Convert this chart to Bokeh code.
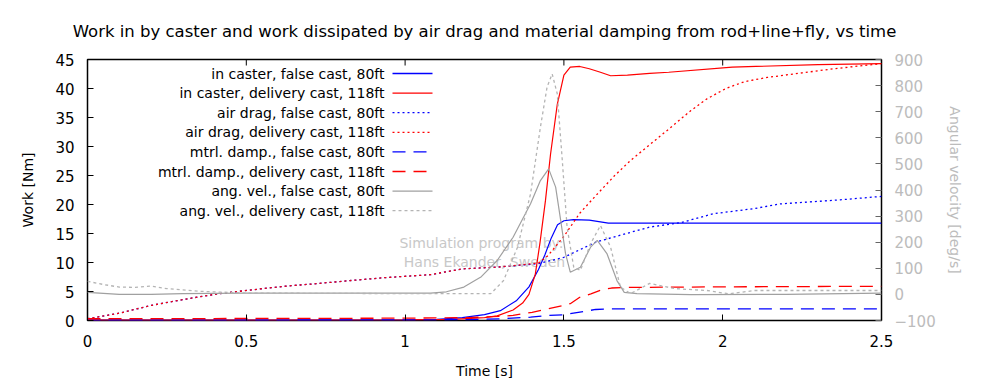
import numpy as np
from bokeh.plotting import figure
from bokeh.models import Range1d, LinearAxis, SingleIntervalTicker
from bokeh.embed import file_html
from bokeh.resources import INLINE
from bokeh.core.properties import value

# ---------------- data ----------------
title_text = "Work in by caster and work dissipated by air drag and material damping from rod+line+fly, vs time"

# Work [Nm], left axis
t_caster_false = [0, 0.5, 1.0, 1.1, 1.18, 1.25, 1.3, 1.35, 1.39, 1.42, 1.44, 1.46, 1.48, 1.5, 1.53, 1.58, 1.64, 1.7, 2.0, 2.5]
w_caster_false = [0.05, 0.05, 0.1, 0.2, 0.5, 1.0, 1.7, 3.4, 5.8, 8.8, 11.3, 14.2, 16.5, 17.2, 17.4, 17.3, 16.8, 16.8, 16.8, 16.8]

t_caster_deliv = [0, 0.5, 1.0, 1.15, 1.25, 1.29, 1.34, 1.37, 1.39, 1.41, 1.425, 1.442, 1.458, 1.479, 1.5, 1.52, 1.55, 1.58, 1.615, 1.647, 1.7, 1.77, 1.83, 2.03, 2.3, 2.5]
w_caster_deliv = [0.05, 0.05, 0.1, 0.2, 0.5, 0.8, 1.8, 3.0, 4.5, 8.0, 13.5, 20.7, 28.7, 37.2, 42.3, 43.7, 43.8, 43.4, 42.8, 42.2, 42.3, 42.6, 42.8, 43.7, 44.1, 44.3]

t_drag_false = [0, 0.1, 0.2, 0.31, 0.41, 0.52, 0.62, 0.73, 0.83, 0.94, 1.08, 1.18, 1.29, 1.42, 1.5, 1.6, 1.71, 1.77, 1.87, 1.97, 2.1, 2.18, 2.37, 2.5]
w_drag_false = [0.3, 1.26, 2.6, 3.7, 4.6, 5.3, 5.9, 6.4, 6.9, 7.4, 7.9, 8.9, 9.2, 9.8, 10.9, 13.5, 15.2, 16.1, 16.9, 18.4, 19.3, 20.1, 20.8, 21.4]

t_drag_deliv = [0, 0.1, 0.2, 0.31, 0.41, 0.52, 0.62, 0.73, 0.83, 0.94, 1.08, 1.18, 1.29, 1.42, 1.45, 1.5, 1.55, 1.6, 1.66, 1.71, 1.77, 1.83, 1.9, 1.95, 2.01, 2.07, 2.14, 2.25, 2.35, 2.5]
w_drag_deliv = [0.3, 1.26, 2.6, 3.7, 4.6, 5.3, 5.9, 6.4, 6.9, 7.4, 7.9, 8.9, 9.2, 9.9, 11.2, 14.5, 18.5, 21.5, 25.0, 27.6, 30.3, 33.0, 36.2, 38.2, 40.0, 41.2, 41.9, 42.7, 43.4, 44.3]

t_damp_false = [0, 1.0, 1.2, 1.3, 1.395, 1.45, 1.5, 1.53, 1.6, 1.65, 1.7, 2.5]
w_damp_false = [0.05, 0.1, 0.15, 0.3, 0.57, 0.86, 0.98, 1.26, 1.9, 2.0, 2.0, 2.0]

t_damp_deliv = [0, 0.5, 1.0, 1.2, 1.3, 1.34, 1.4, 1.45, 1.5, 1.52, 1.55, 1.585, 1.62, 1.65, 1.7, 2.0, 2.5]
w_damp_deliv = [0.3, 0.35, 0.4, 0.5, 0.7, 0.9, 1.4, 2.0, 2.6, 2.9, 4.0, 4.6, 5.3, 5.6, 5.7, 5.8, 5.9]

# Angular velocity [deg/s], right axis
t_angv_false = [0, 0.1, 0.2, 0.3, 0.5, 1.0, 1.08, 1.13, 1.185, 1.24, 1.29, 1.34, 1.395, 1.426, 1.452, 1.474, 1.49, 1.505, 1.52, 1.552, 1.584, 1.605, 1.636, 1.667, 1.69, 1.73, 1.9, 2.2, 2.5]
v_angv_false = [8, 0, 0, 3, 5, 5, 5, 10, 28, 68, 130, 219, 347, 436, 481, 411, 283, 157, 85, 104, 181, 207, 155, 53, 8, 3, -1, 0, 5]

t_angv_deliv = [0, 0.05, 0.1, 0.15, 0.2, 0.25, 0.35, 0.5, 1.0, 1.27, 1.31, 1.354, 1.395, 1.426, 1.447, 1.463, 1.479, 1.495, 1.51, 1.531, 1.552, 1.584, 1.615, 1.647, 1.678, 1.71, 1.77, 1.85, 1.95, 2.02, 2.1, 2.5]
v_angv_deliv = [50, 38, 28, 27, 32, 22, 12, 5, 3, 3, 53, 181, 385, 640, 794, 845, 769, 513, 257, 104, 92, 194, 264, 181, 28, 3, 42, 22, 15, 2, 15, 15]

legend_labels = ["in caster, false cast, 80ft", "in caster, delivery cast, 118ft",
                 "air drag, false cast, 80ft", "air drag, delivery cast, 118ft",
                 "mtrl. damp., false cast, 80ft", "mtrl. damp., delivery cast, 118ft",
                 "ang. vel., false cast, 80ft", "ang. vel., delivery cast, 118ft"]

x_ticks_interval = 0.5
y_ticks_interval = 5
y2_ticks_interval = 100

# ---------------- layout ----------------
X0, X1 = 0.0, 2.5
Y0, Y1 = 0.0, 45.0
V0, V1 = -100.0, 900.0
FL, FR, FT, FB = 87, 881, 59, 320   # frame edges in picture px
W, H = 1000, 383

def tx(px):
    return X0 + (px - FL) / (FR - FL) * (X1 - X0)

def wy(py):
    return Y0 + (FB - py) / (FB - FT) * (Y1 - Y0)

FONT = "DejaVu Sans"
BLUE = "#0000ff"
RED = "#ff0000"
GRAY1 = "#a0a0a0"
GRAY2 = "#b4b4b4"
DOT = "2 3"
DASH = "13 8"

p = figure(width=W, height=H, output_backend="svg", toolbar_location=None,
           x_range=Range1d(X0, X1), y_range=Range1d(Y0, Y1),
           min_border_left=FL, min_border_right=W - FR,
           min_border_top=FT, min_border_bottom=H - FB,
           title=title_text)
p.extra_y_ranges = {"w": Range1d(V0, V1)}
p.xgrid.visible = False
p.ygrid.visible = False
p.outline_line_color = "black"
p.outline_line_width = 1.5
p.background_fill_color = "white"
p.border_fill_color = "white"

p.title.align = "center"
p.title.text_font = FONT
p.title.text_font_style = "normal"
p.title.text_font_size = "16.5px"
p.title.text_color = "black"
p.title.standoff = 37

def style_axis(ax, ticker, color="black", tickcol="black", size="15px"):
    ax.ticker = ticker
    ax.axis_line_color = None
    ax.major_tick_in = 6
    ax.major_tick_out = 0
    ax.minor_tick_line_color = None
    ax.major_tick_line_color = tickcol
    ax.major_tick_line_width = 1
    ax.major_label_text_font = FONT
    ax.major_label_text_font_size = size
    ax.major_label_text_color = color
    ax.axis_label_text_font = FONT
    ax.axis_label_text_font_size = "14px"
    ax.axis_label_text_font_style = "normal"
    ax.axis_label_text_color = color

xa = p.xaxis[0]
style_axis(xa, SingleIntervalTicker(interval=x_ticks_interval))
xa.axis_label = "Time [s]"
xa.major_label_standoff = 10
xa.axis_label_standoff = 13

ya = p.yaxis[0]
style_axis(ya, SingleIntervalTicker(interval=y_ticks_interval))
ya.axis_label = "Work [Nm]"
ya.major_label_standoff = 9
ya.axis_label_standoff = 16

y2 = LinearAxis(y_range_name="w")
style_axis(y2, SingleIntervalTicker(interval=y2_ticks_interval), color="#bcbcbc", tickcol="#666666")
y2.axis_label = "Angular velocity [deg/s]"
y2.major_label_standoff = 9
y2.axis_label_standoff = 8
p.add_layout(y2, "right")

# mirrored tick marks on the top border (gnuplot style)
top_ticks = np.arange(X0, X1 + 1e-9, x_ticks_interval)
tick_len = 6 / (FB - FT) * (Y1 - Y0)
p.segment(x0=top_ticks, y0=[Y1] * len(top_ticks), x1=top_ticks, y1=[Y1 - tick_len] * len(top_ticks),
          line_color="black", line_width=1)

# watermark
p.text(x=[tx(481), tx(484)], y=[wy(242), wy(261)],
       text=["Simulation program by:", "Hans Ekander, Sweden"],
       text_font=value(FONT), text_font_size="14px", text_color="#c8c8c8",
       text_align="center", text_baseline="middle")

# series
p.line(t_caster_false, w_caster_false, line_color=BLUE, line_width=1.2)
p.line(t_caster_deliv, w_caster_deliv, line_color=RED, line_width=1.2)
p.line(t_drag_false, w_drag_false, line_color=BLUE, line_width=1.3, line_dash=DOT)
p.line(t_drag_deliv, w_drag_deliv, line_color=RED, line_width=1.3, line_dash=DOT)
p.line(t_damp_false, w_damp_false, line_color=BLUE, line_width=1.3, line_dash=DASH)
p.line(t_damp_deliv, w_damp_deliv, line_color=RED, line_width=1.3, line_dash=DASH)
p.line(t_angv_false, v_angv_false, line_color=GRAY1, line_width=1.2, y_range_name="w")
p.line(t_angv_deliv, v_angv_deliv, line_color=GRAY2, line_width=1.3, line_dash="3 3", y_range_name="w")

# legend (label left of sample line, gnuplot style)
styles = [(BLUE, "solid", 1.3), (RED, "solid", 1.3), (BLUE, DOT, 1.3), (RED, DOT, 1.3),
          (BLUE, DASH, 1.3), (RED, DASH, 1.3), (GRAY1, "solid", 1.3), (GRAY2, "3 3", 1.3)]
row0, drow = 73, 19.6
for i, (lab, (c, d, lw)) in enumerate(zip(legend_labels, styles)):
    yy = wy(row0 + drow * i)
    p.text(x=[tx(384)], y=[yy], text=[lab], text_font=value(FONT), text_font_size="14px",
           text_color="black", text_align="right", text_baseline="middle")
    p.segment(x0=[tx(392)], y0=[yy], x1=[tx(432)], y1=[yy], line_color=c, line_dash=d, line_width=lw)

open("out.html", "w").write(file_html(p, INLINE))
